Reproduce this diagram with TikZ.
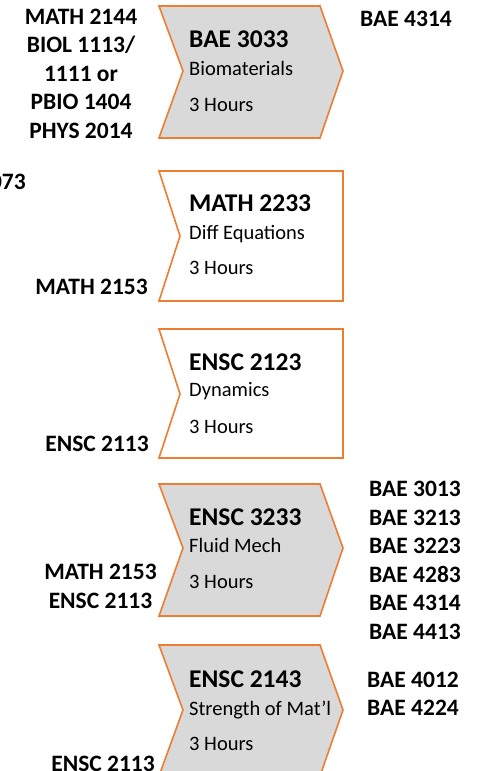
\documentclass[tikz,border=0pt]{standalone}
\usepackage{fontspec}
\setmainfont{Carlito}
\usepackage{tikz}

\definecolor{orangeline}{HTML}{ED7D31}
\definecolor{boxgrey}{HTML}{D9D9D9}

\begin{document}
\begin{tikzpicture}[
  x=1pt, y=-1pt,
  course/.style={draw=orangeline, line width=1.6pt, line join=miter},
  title/.style={anchor=base west, inner sep=0pt, font=\bfseries\fontsize{25.5}{30}\selectfont},
  sub/.style={anchor=base west, inner sep=0pt, font=\fontsize{20.5}{24}\selectfont},
  req/.style={inner sep=0pt, font=\bfseries\fontsize{23.5}{28.5}\selectfont}
]
\useasboundingbox (0,0) rectangle (481,771);

% BAE 3033
\draw[course, fill=boxgrey] (159,6) -- (320,6) -- (343,71) -- (320,138) -- (159,138) -- (183,71) -- cycle;
\node[title] (bae3033) at (189,47.7) {BAE 3033};
\node[sub] (bae3033name) at (189,75) {Biomaterials};
\node[sub] (bae3033hrs) at (189,111) {3 Hours};
% last line sits on the base anchor
\node[req, anchor=base, align=center] (bae3033pre) at (81,138.3) {MATH 2144\\BIOL 1113/\\1111 or\\PBIO 1404\\PHYS 2014};
\node[req, anchor=base west] (bae3033post) at (360,26.7) {BAE 4314};

% MATH 2233
\node[req, anchor=base east] (cut) at (26,189) {073};
\draw[course, fill=white] (159,171) -- (343,171) -- (343,301) -- (159,301) -- (180,236) -- cycle;
\node[title] (math2233) at (189,211.7) {MATH 2233};
\node[sub] (math2233name) at (189,239.3) {Diff Equations};
\node[sub] (math2233hrs) at (189,274) {3 Hours};
\node[req, anchor=base east] (math2233pre) at (148,294) {MATH 2153};

% ENSC 2123
\draw[course, fill=white] (159,329) -- (343,329) -- (343,458) -- (159,458) -- (180,394) -- cycle;
\node[title] (ensc2123) at (189,370) {ENSC 2123};
\node[sub] (ensc2123name) at (189,396.5) {Dynamics};
\node[sub] (ensc2123hrs) at (189,433.3) {3 Hours};
\node[req, anchor=base east] (ensc2123pre) at (149,451) {ENSC 2113};

% ENSC 3233
\draw[course, fill=boxgrey] (159,484) -- (320,484) -- (343,548) -- (320,616) -- (159,616) -- (183,548) -- cycle;
\node[title] (ensc3233) at (189,525) {ENSC 3233};
\node[sub] (ensc3233name) at (189,552.7) {Fluid Mech};
\node[sub] (ensc3233hrs) at (189,588.3) {3 Hours};
\node[req, anchor=base, align=center] (ensc3233pre) at (100.5,608) {MATH 2153\\ENSC 2113};
\node[req, anchor=base west, align=left] (ensc3233post) at (369,639) {BAE 3013\\BAE 3213\\BAE 3223\\BAE 4283\\BAE 4314\\BAE 4413};

% ENSC 2143
\draw[course, fill=boxgrey] (159,645) -- (320,645) -- (343,710) -- (320,776) -- (159,776) -- (183,710) -- cycle;
\node[title] (ensc2143) at (189,687.3) {ENSC 2143};
\node[sub] (ensc2143name) at (189,715) {Strength of Mat’l};
\node[sub] (ensc2143hrs) at (189,750) {3 Hours};
\node[req, anchor=base east] (ensc2143pre) at (155,771) {ENSC 2113};
\node[req, anchor=base west, align=left] (ensc2143post) at (367,715.7) {BAE 4012\\BAE 4224};
\end{tikzpicture}
\end{document}
